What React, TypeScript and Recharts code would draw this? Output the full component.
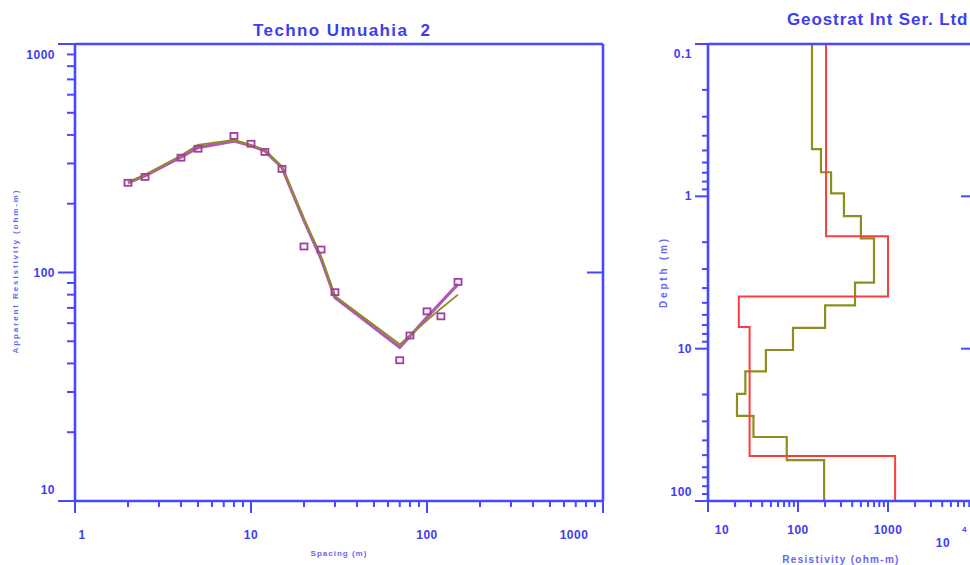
import React from "react";
import { ComposedChart, LineChart, Line, Scatter, XAxis, YAxis } from "recharts";

// sounding curve (left panel)
const spacing = [2, 2.5, 4, 5, 8, 10, 12, 15, 20, 25, 30, 70, 80, 100, 120, 150];
const observedRho = [247, 262, 318, 348, 396, 366, 337, 284, 130, 126, 82, 41.3, 53, 67.6, 64.3, 91];
const calculatedRho = [247, 265, 320, 352, 376, 359, 341, 288, 169, 115, 77.7, 47, 52.6, 63.6, 74, 89];
const modelRho = [248, 268, 325, 362, 380, 362, 343, 290, 172, 118, 79, 48.5, 53, 61.7, 69.6, 80];

// layered models (right panel)
const fitLayerRes = [205, 1000, 22, 29, 1200];
const fitLayerTops = [0.1, 1.83, 4.55, 7.2, 50.6, 100];
const smoothLayerRes = [143, 180, 233, 324, 500, 699, 430, 200, 88, 44, 26, 21, 32, 75, 195];
const smoothLayerTops = [0.1, 0.49, 0.695, 0.955, 1.35, 1.89, 3.68, 5.2, 7.3, 10.2, 14.1, 19.8, 27.6, 38, 53.9, 100];

// tick labels
const spacingTicks = [1, 10, 100, 1000];
const rhoTicks = [10, 100, 1000];
const resTicks = [10, 100, 1000, 10000];
const depthTicks = [0.1, 1, 10, 100];

const AXIS = "#4848ff";
const TEXT = "#3d3df2";
const SOFT = "#6a66f2";
const PURPLE = "#a23ca2";
const OLIVE = "#8d8d22";
const RED = "#ff3b3b";
const FONT = "'Liberation Sans', Arial, sans-serif";

const minorTicks = (majors: number[]) =>
  majors
    .slice(0, -1)
    .flatMap((d) => [2, 3, 4, 5, 6, 7, 8, 9].map((m) => Number((m * d).toPrecision(3))));

const stepPoints = (res: number[], tops: number[]) =>
  res.flatMap((r, i) => [
    { res: r, depth: tops[i] },
    { res: r, depth: tops[i + 1] }
  ]);

type LabelSpec = { dx: number; dy: number; anchor: "start" | "middle" | "end"; text: string; sup?: string };

interface TickSpec {
  dir: "down" | "left";
  majors: number[];
  majorLen: number;
  minorLen: number;
  label?: (v: number) => LabelSpec | null;
}

function makeTick(spec: TickSpec) {
  return (props: any) => {
    const { x, y, payload } = props;
    const v = Number(payload.value);
    const major = spec.majors.some((m) => Math.abs(m - v) < 1e-9);
    const len = major ? spec.majorLen : spec.minorLen;
    const x2 = spec.dir === "left" ? x - len : x;
    const y2 = spec.dir === "down" ? y + len : y;
    const lab = major && spec.label ? spec.label(v) : null;
    return (
      <g>
        <line x1={x} y1={y} x2={x2} y2={y2} stroke={AXIS} strokeWidth={2} />
        {lab ? (
          <text
            x={x + lab.dx}
            y={y + lab.dy}
            textAnchor={lab.anchor}
            fill={TEXT}
            fontSize={12}
            fontWeight="bold"
            fontFamily={FONT}
            letterSpacing={0.5}
          >
            {lab.text}
          </text>
        ) : null}
        {lab && lab.sup ? (
          <text x={x - 16} y={y + 31} fill={TEXT} fontSize={8} fontWeight="bold" fontFamily={FONT}>
            {lab.sup}
          </text>
        ) : null}
      </g>
    );
  };
}

const axisLine = { stroke: AXIS, strokeWidth: 2.6 };

const Square = (p: any) => (
  <rect x={p.cx - 3.5} y={p.cy - 3} width={7} height={6} fill="none" stroke={PURPLE} strokeWidth={1.8} />
);

export default function App() {
  const curveRows = spacing.map((s, i) => ({
    spacing: s,
    observed: observedRho[i],
    calculated: calculatedRho[i],
    model: modelRho[i]
  }));
  const fitSteps = stepPoints(fitLayerRes, fitLayerTops);
  const smoothSteps = stepPoints(smoothLayerRes, smoothLayerTops);

  const spacingTick = makeTick({
    dir: "down",
    majors: spacingTicks,
    majorLen: 12,
    minorLen: 6,
    label: (v) => ({ dx: v === 1 ? 7 : v === 1000 ? -29 : 0, dy: 38, anchor: "middle", text: String(v) })
  });
  const rhoTick = makeTick({
    dir: "left",
    majors: rhoTicks,
    majorLen: 17,
    minorLen: 8,
    label: (v) => ({ dx: -20, dy: v === 1000 ? 15 : v === 10 ? -7 : 4, anchor: "end", text: String(v) })
  });
  const resTick = makeTick({
    dir: "down",
    majors: resTicks,
    majorLen: 11,
    minorLen: 6,
    label: (v) =>
      v === 10000
        ? { dx: -35, dy: 46, anchor: "middle", text: "10", sup: "4" }
        : { dx: v === 10 ? 14 : 0, dy: 33, anchor: "middle", text: String(v) }
  });
  const depthTick = makeTick({
    dir: "left",
    majors: depthTicks,
    majorLen: 13,
    minorLen: 6,
    label: (v) => ({ dx: -16, dy: v === 0.1 ? 14 : v === 100 ? -5 : 4, anchor: "end", text: String(v) })
  });
  const innerDown = makeTick({ dir: "down", majors: [10, 100, 1000], majorLen: 13, minorLen: 13 });
  const innerLeft = makeTick({ dir: "left", majors: [1, 10, 100], majorLen: 17, minorLen: 17 });

  return (
    <div
      style={{
        position: "absolute",
        left: 0,
        top: 0,
        width: 970,
        height: 565,
        overflow: "hidden",
        background: "#ffffff"
      }}
    >
      <div style={{ position: "absolute", left: 0, top: 0 }}>
        <ComposedChart width={640} height={565} data={curveRows} margin={{ top: 0, right: 0, bottom: 0, left: 0 }}>
          <XAxis
            xAxisId="b"
            dataKey="spacing"
            type="number"
            scale="log"
            domain={[1, 1000]}
            allowDataOverflow
            ticks={[...spacingTicks, ...minorTicks(spacingTicks)]}
            interval={0}
            height={64}
            tickSize={0}
            tickMargin={0}
            tickLine={false}
            axisLine={axisLine}
            tick={spacingTick}
          />
          <XAxis
            xAxisId="t"
            orientation="top"
            type="number"
            scale="log"
            domain={[1, 1000]}
            allowDataOverflow
            ticks={[10, 100]}
            interval={0}
            height={44}
            tickSize={0}
            tickMargin={0}
            tickLine={false}
            axisLine={axisLine}
            tick={innerDown}
          />
          <YAxis
            yAxisId="l"
            type="number"
            scale="log"
            domain={[10, 1000]}
            allowDataOverflow
            ticks={[...rhoTicks, ...minorTicks(rhoTicks)]}
            interval={0}
            width={75}
            tickSize={0}
            tickMargin={0}
            tickLine={false}
            axisLine={axisLine}
            tick={rhoTick}
          />
          <YAxis
            yAxisId="r"
            orientation="right"
            type="number"
            scale="log"
            domain={[10, 1000]}
            allowDataOverflow
            ticks={[100]}
            interval={0}
            width={37}
            tickSize={0}
            tickMargin={0}
            tickLine={false}
            axisLine={axisLine}
            tick={makeTick({ dir: "left", majors: [100], majorLen: 16, minorLen: 16 })}
          />
          <Line
            xAxisId="b"
            yAxisId="l"
            dataKey="calculated"
            type="linear"
            stroke={PURPLE}
            strokeWidth={3.2}
            strokeOpacity={0.85}
            dot={false}
            activeDot={false}
            isAnimationActive={false}
          />
          <Line
            xAxisId="b"
            yAxisId="l"
            dataKey="model"
            type="linear"
            stroke={OLIVE}
            strokeWidth={1.8}
            dot={false}
            activeDot={false}
            isAnimationActive={false}
          />
          <Scatter
            xAxisId="b"
            yAxisId="l"
            data={curveRows}
            dataKey="observed"
            shape={Square}
            isAnimationActive={false}
          />
        </ComposedChart>
      </div>

      <div style={{ position: "absolute", left: 640, top: 0 }}>
        <LineChart width={360} height={565} margin={{ top: 0, right: 0, bottom: 0, left: 0 }}>
          <XAxis
            xAxisId="b"
            dataKey="res"
            type="number"
            scale="log"
            domain={[10, 10000]}
            allowDataOverflow
            ticks={[...resTicks, ...minorTicks(resTicks)]}
            interval={0}
            height={64}
            tickSize={0}
            tickMargin={0}
            tickLine={false}
            axisLine={axisLine}
            tick={resTick}
          />
          <XAxis
            xAxisId="t"
            orientation="top"
            type="number"
            scale="log"
            domain={[10, 10000]}
            allowDataOverflow
            ticks={[100, 1000]}
            interval={0}
            height={44}
            tickSize={0}
            tickMargin={0}
            tickLine={false}
            axisLine={axisLine}
            tick={makeTick({ dir: "down", majors: [100, 1000], majorLen: 12, minorLen: 12 })}
          />
          <YAxis
            yAxisId="l"
            type="number"
            scale="log"
            domain={[0.1, 100]}
            reversed
            allowDataOverflow
            ticks={[...depthTicks, ...minorTicks(depthTicks)]}
            interval={0}
            width={68}
            tickSize={0}
            tickMargin={0}
            tickLine={false}
            axisLine={axisLine}
            tick={depthTick}
          />
          <YAxis
            yAxisId="r"
            orientation="right"
            type="number"
            scale="log"
            domain={[0.1, 100]}
            reversed
            allowDataOverflow
            ticks={[1, 10]}
            interval={0}
            width={22}
            tickSize={0}
            tickMargin={0}
            tickLine={false}
            axisLine={axisLine}
            tick={innerLeft}
          />
          <Line
            xAxisId="b"
            yAxisId="l"
            data={smoothSteps}
            dataKey="depth"
            type="linear"
            stroke={OLIVE}
            strokeWidth={2.2}
            dot={false}
            activeDot={false}
            isAnimationActive={false}
          />
          <Line
            xAxisId="b"
            yAxisId="l"
            data={fitSteps}
            dataKey="depth"
            type="linear"
            stroke={RED}
            strokeWidth={2}
            dot={false}
            activeDot={false}
            isAnimationActive={false}
          />
        </LineChart>
      </div>

      <svg
        width={970}
        height={565}
        style={{ position: "absolute", left: 0, top: 0, pointerEvents: "none" }}
        fontFamily={FONT}
        fontWeight="bold"
      >
        <text x={253} y={36} fill={TEXT} fontSize={17} letterSpacing={1.4} style={{ whiteSpace: "pre" }}>
          {"Techno Umuahia  2"}
        </text>
        <text x={787} y={25} fill={TEXT} fontSize={17} letterSpacing={0.9} style={{ whiteSpace: "pre" }}>
          {"Geostrat Int Ser. Ltd"}
        </text>
        <text
          x={18}
          y={271}
          transform="rotate(-90 18 271)"
          textAnchor="middle"
          fill={SOFT}
          fontSize={8}
          letterSpacing={1.9}
        >
          Apparent Resistivity (ohm-m)
        </text>
        <text x={339} y={556} textAnchor="middle" fill={SOFT} fontSize={8} letterSpacing={1}>
          Spacing (m)
        </text>
        <text
          x={667}
          y={272}
          transform="rotate(-90 667 272)"
          textAnchor="middle"
          fill={SOFT}
          fontSize={10}
          letterSpacing={2.8}
        >
          Depth (m)
        </text>
        <text x={841} y={563} textAnchor="middle" fill={SOFT} fontSize={10} letterSpacing={1.3}>
          Resistivity (ohm-m)
        </text>
      </svg>
    </div>
  );
}
